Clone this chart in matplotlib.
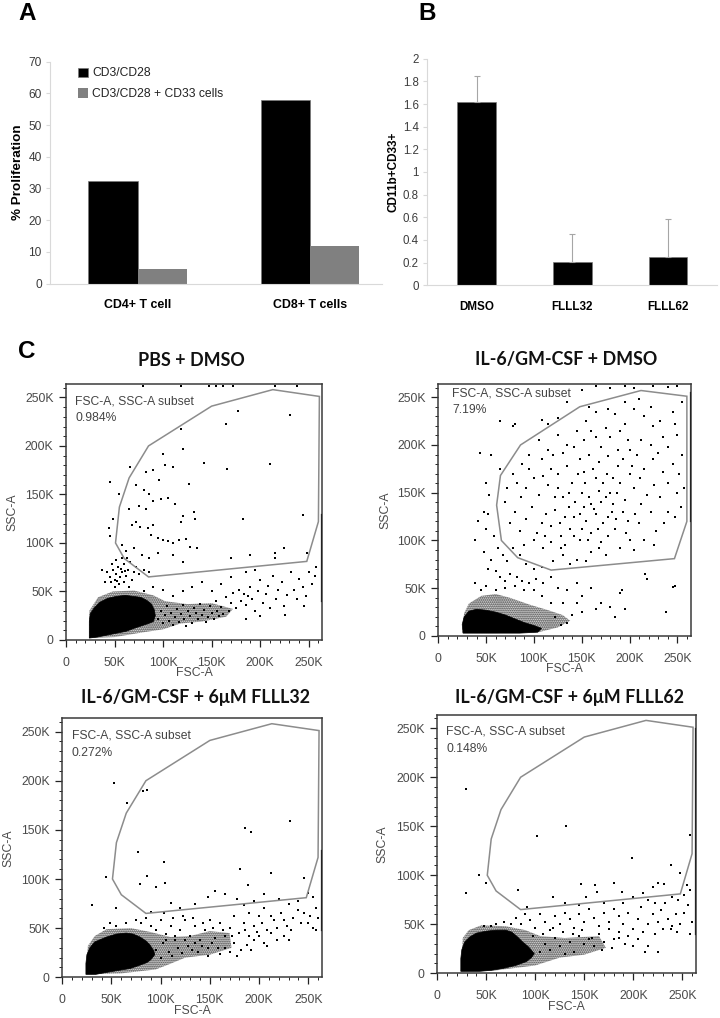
import matplotlib
matplotlib.use("Agg")
import matplotlib.pyplot as plt
from matplotlib.patches import Polygon

W, H = 720, 1018

# panel A
A_GROUPS = ["CD4+ T cell", "CD8+ T cells"]
A_STIM = [32.3, 58.0]
A_CD33 = [4.5, 11.7]
A_SERIES = ["CD3/CD28", "CD3/CD28 + CD33 cells"]

# panel B
B_GROUPS = ["DMSO", "FLLL32", "FLLL62"]
B_VALUES = [1.62, 0.205, 0.25]
B_ERR = [0.23, 0.245, 0.335]
B_TICKS = [0, 0.2, 0.4, 0.6, 0.8, 1, 1.2, 1.4, 1.6, 1.8, 2]
B_TICK_LABELS = ["0", "0.2", "0.4", "0.6", "0.8", "1", "1.2", "1.4", "1.6", "1.8", "2"]

# panel C, all in thousands of FSC-A / SSC-A units
GATE = [(85, 65), (248, 81), (260, 122), (261, 251), (213, 258), (150, 241),
        (85, 200), (65, 167), (55, 137), (51, 100), (60, 84)]
GATE_IL6 = [(118, 69), (247, 81), (260, 120), (260, 251), (212, 257), (148, 240),
            (86, 200), (65, 168), (61, 137), (66, 100), (83, 82)]

PBS_CORE = [(24, 2), (24, 19), (25, 27), (29, 33), (35, 39), (43, 43), (52, 45), (61, 46), (69, 45),
            (77, 44), (83, 41), (88, 37), (91, 31), (92, 25), (90, 19), (85, 17), (79, 15), (70, 12),
            (62, 9), (52, 7), (42, 5), (32, 3)]
PBS_HAZE = [(24, 2), (24, 30), (33, 44), (48, 50), (70, 51), (90, 46), (102, 40), (125, 37), (150, 38),
            (172, 32), (165, 24), (140, 19), (118, 17), (100, 11), (80, 8), (50, 3)]
PBS_EDGE = (40, 130)
PBS_DOTS = [(118, 217), (121, 197), (100, 192), (102, 180), (110, 178), (142, 182), (166, 176),
            (210, 181), (165, 223), (177, 236), (231, 232), (45, 163), (66, 178), (82, 173),
            (90, 175), (96, 165), (72, 160), (80, 155), (85, 150), (127, 161), (55, 150),
            (65, 135), (75, 138), (82, 135), (90, 143), (98, 145), (105, 146), (112, 140),
            (120, 128), (118, 122), (132, 132), (133, 125), (182, 125), (244, 129), (68, 118),
            (76, 116), (72, 122), (84, 115), (90, 118), (88, 108), (95, 105), (100, 103),
            (105, 102), (110, 100), (116, 103), (124, 104), (128, 96), (135, 95), (58, 98),
            (62, 92), (70, 95), (78, 88), (85, 85), (95, 90), (110, 88), (120, 80), (170, 84),
            (215, 85), (215, 90), (190, 88), (248, 90), (225, 95), (45, 107), (44, 115), (48, 125),
            (42, 70), (45, 65), (48, 72), (50, 62), (52, 68), (54, 75), (56, 65), (58, 70),
            (60, 78), (62, 66), (64, 72), (66, 80), (68, 62), (70, 70), (72, 75), (50, 55),
            (55, 58), (60, 60), (65, 55), (40, 60), (37, 72), (75, 68), (80, 72), (85, 70),
            (47, 78), (52, 82), (58, 84), (63, 85), (46, 60), (53, 61), (57, 73), (61, 71),
            (95, 22), (98, 30), (100, 18), (102, 26), (104, 35), (106, 20), (108, 28), (110, 15),
            (112, 24), (114, 32), (116, 19), (118, 27), (120, 36), (122, 22), (124, 14), (126, 30),
            (128, 25), (130, 18), (132, 33), (134, 28), (136, 22), (138, 37), (140, 26), (142, 31),
            (144, 19), (146, 24), (148, 35), (150, 28), (152, 22), (154, 40), (156, 30), (158, 25),
            (160, 34), (162, 27), (165, 44), (168, 30), (170, 38), (172, 48), (175, 33), (178, 52),
            (180, 40), (183, 47), (185, 36), (187, 45), (190, 55), (192, 42), (195, 30), (198, 50),
            (200, 62), (203, 38), (206, 47), (208, 56), (210, 33), (213, 66), (216, 42), (218, 52),
            (222, 60), (225, 35), (228, 46), (232, 70), (235, 52), (238, 42), (240, 63), (244, 55),
            (247, 45), (250, 70), (253, 58), (256, 66), (258, 75), (245, 35), (226, 26), (200, 25),
            (185, 22), (110, 45), (120, 50), (130, 55), (140, 60), (150, 50), (160, 58), (100, 52),
            (90, 55), (80, 50), (170, 65), (185, 70), (195, 72), (79, 262), (118, 262), (147, 262),
            (155, 262), (162, 262), (172, 262), (215, 262), (238, 262)]

IL6_CORE = [(26, 3), (25, 12), (27, 20), (32, 26), (40, 28), (50, 27), (60, 25), (70, 22), (80, 18),
            (90, 14), (100, 11), (108, 8), (104, 4), (85, 3), (60, 3), (40, 3)]
IL6_HAZE = [(25, 3), (27, 24), (32, 34), (45, 42), (60, 44), (75, 40), (95, 33), (115, 27), (130, 22),
            (138, 16), (125, 9), (105, 4), (60, 3)]
IL6_EDGE = (120, 255)
IL6_DOTS = [(175, 145), (168, 152), (160, 138), (182, 130), (190, 160), (150, 150), (142, 125),
            (155, 120), (165, 128), (172, 118), (180, 150), (195, 142), (205, 155), (212, 138),
            (200, 170), (188, 178), (176, 170), (165, 165), (152, 172), (140, 160), (130, 145),
            (122, 132), (118, 115), (128, 105), (138, 112), (148, 100), (160, 108), (170, 98),
            (185, 112), (198, 120), (210, 118), (222, 130), (232, 145), (240, 160), (250, 150),
            (245, 180), (235, 172), (225, 185), (215, 175), (208, 190), (198, 205), (188, 195),
            (178, 188), (168, 182), (158, 190), (148, 185), (135, 178), (125, 170), (115, 158),
            (105, 148), (98, 135), (92, 122), (85, 110), (80, 130), (75, 118), (70, 140),
            (72, 155), (78, 170), (88, 180), (95, 190), (105, 205), (115, 195), (125, 210),
            (135, 200), (145, 215), (155, 225), (165, 208), (175, 218), (185, 232), (195, 222),
            (205, 238), (215, 230), (225, 220), (235, 208), (245, 235), (255, 245), (250, 210),
            (255, 190), (240, 130), (228, 110), (215, 100), (205, 90), (190, 92), (175, 85),
            (160, 88), (145, 80), (130, 85), (120, 78), (110, 92), (100, 100), (90, 95),
            (152, 135), (158, 145), (163, 133), (170, 140), (177, 125), (183, 138), (187, 150),
            (193, 130), (148, 128), (143, 140), (137, 150), (132, 125), (127, 118), (122, 145),
            (113, 128), (108, 118), (103, 108), (112, 105), (118, 98), (133, 95), (142, 105),
            (150, 112), (157, 100), (167, 112), (178, 105), (186, 122), (196, 108), (206, 128),
            (218, 148), (226, 158), (211, 165), (203, 178), (193, 185), (183, 165), (172, 160),
            (162, 175), (153, 160), (146, 170), (137, 135), (125, 155), (118, 175), (110, 168),
            (100, 165), (92, 155), (86, 145), (82, 160), (95, 175), (108, 185), (120, 190),
            (130, 192), (142, 198), (152, 205), (160, 215), (170, 198), (180, 208), (190, 215),
            (200, 195), (212, 205), (222, 200), (230, 192), (240, 198), (248, 222), (232, 225),
            (222, 240), (210, 248), (195, 245), (178, 238), (165, 235), (158, 240), (252, 170),
            (257, 155), (254, 135), (248, 125), (236, 118), (226, 95), (200, 100), (168, 92),
            (155, 78), (138, 75), (128, 92), (55, 190), (44, 192), (65, 175), (50, 160), (53, 148),
            (48, 130), (52, 128), (42, 120), (38, 100), (50, 112), (58, 105), (62, 92), (68, 85),
            (72, 78), (78, 92), (85, 85), (92, 75), (100, 70), (108, 72), (48, 88), (55, 80),
            (52, 70), (60, 68), (65, 62), (70, 58), (75, 65), (82, 62), (88, 58), (95, 55),
            (102, 60), (110, 55), (118, 62), (125, 50), (135, 48), (145, 55), (150, 42), (160, 50),
            (170, 35), (180, 30), (190, 45), (195, 28), (185, 20), (165, 28), (150, 25), (145, 35),
            (130, 35), (140, 22), (135, 14), (128, 12), (122, 20), (118, 35), (108, 42), (100, 48),
            (90, 48), (80, 52), (70, 50), (60, 48), (50, 52), (45, 48), (38, 55), (216, 65),
            (218, 60), (248, 52), (245, 51), (238, 25), (192, 48), (65, 225), (78, 220), (80, 222),
            (150, 258), (165, 262), (180, 260), (195, 262), (205, 260), (225, 262), (240, 261),
            (250, 262), (135, 245), (125, 228), (115, 222), (108, 226)]

F32_CORE = [(24, 3), (24, 14), (25, 23), (28, 30), (33, 36), (45, 41), (55, 44), (65, 45), (72, 44),
            (79, 41), (85, 37), (89, 33), (93, 27), (94, 23), (90, 18), (86, 15), (78, 12), (69, 9),
            (57, 7), (45, 5), (34, 3)]
F32_HAZE = [(24, 3), (26, 32), (33, 42), (45, 49), (70, 50), (90, 46), (110, 41), (130, 42), (150, 47),
            (170, 45), (172, 30), (150, 23), (125, 20), (108, 13), (95, 8), (60, 4)]
F32_EDGE = (48, 130)
F32_DOTS = [(53, 198), (82, 190), (86, 191), (66, 177), (186, 152), (192, 148), (231, 159),
            (77, 127), (103, 117), (181, 110), (212, 106), (86, 103), (44, 102), (79, 95),
            (104, 96), (95, 92), (189, 94), (246, 101), (30, 74), (55, 70), (90, 66),
            (110, 76), (120, 70), (135, 75), (148, 82), (155, 88), (165, 85), (178, 80),
            (185, 74), (195, 78), (205, 85), (220, 80), (230, 75), (240, 78), (250, 86), (255, 82),
            (258, 70), (252, 62), (246, 65), (243, 55), (235, 60), (228, 52), (222, 65), (215, 58),
            (208, 48), (200, 62), (195, 52), (190, 42), (185, 55), (180, 45), (175, 62), (170, 50),
            (165, 42), (160, 55), (155, 40), (150, 58), (145, 48), (140, 38), (135, 52), (130, 42),
            (125, 58), (120, 48), (115, 38), (110, 52), (105, 44), (100, 58), (95, 48), (90, 52),
            (85, 60), (80, 55), (75, 58), (65, 55), (55, 52), (48, 55), (42, 50), (165, 30),
            (170, 26), (175, 35), (182, 28), (188, 33), (195, 38), (200, 42), (205, 35), (212, 45),
            (218, 50), (225, 42), (230, 38), (218, 38), (208, 32), (192, 28), (178, 22), (160, 24),
            (148, 30), (138, 26), (128, 32), (118, 30), (108, 26), (100, 20), (95, 28), (102, 35),
            (112, 22), (122, 25), (132, 28), (142, 32), (152, 35), (158, 30), (148, 22), (135, 35),
            (125, 38), (115, 42), (105, 38), (250, 55), (255, 50), (260, 60), (258, 48), (240, 68),
            (232, 48), (225, 58), (212, 62), (203, 55), (198, 46), (186, 48), (173, 42), (163, 48),
            (153, 50), (143, 55), (133, 60), (123, 62), (113, 60), (103, 65), (205, 70), (190, 65)]

F62_CORE = [(24, 2), (24, 15), (25, 24), (28, 32), (33, 37), (40, 41), (50, 43), (60, 44), (70, 44),
            (76, 42), (82, 37), (87, 32), (93, 27), (99, 20), (96, 16), (91, 12), (80, 8), (67, 5),
            (55, 3), (43, 2), (30, 2)]
F62_HAZE = [(24, 2), (26, 36), (32, 44), (45, 49), (70, 48), (90, 44), (105, 38), (130, 36), (165, 38),
            (172, 26), (150, 19), (125, 16), (100, 8), (60, 3)]
F62_EDGE = (40, 250)
F62_DOTS = [(29, 188), (131, 150), (102, 140), (258, 141), (199, 118), (238, 110), (248, 102),
            (43, 100), (50, 92), (29, 82), (82, 85), (147, 91), (161, 90), (180, 92), (220, 88),
            (225, 92), (231, 91), (118, 78), (152, 78), (163, 83), (188, 83), (210, 82), (255, 90),
            (258, 85), (252, 80), (246, 75), (240, 78), (232, 72), (228, 65), (222, 72), (215, 75),
            (208, 68), (200, 78), (195, 62), (190, 72), (185, 58), (180, 66), (175, 52), (170, 62),
            (165, 48), (160, 56), (155, 66), (150, 52), (145, 60), (140, 46), (135, 55), (130, 62),
            (125, 50), (120, 58), (115, 44), (110, 52), (105, 60), (100, 46), (95, 54), (90, 60),
            (85, 50), (80, 56), (75, 50), (68, 52), (60, 50), (55, 48), (48, 48), (92, 68),
            (130, 72), (145, 70), (170, 72), (256, 70), (252, 62), (248, 50), (244, 60), (240, 48),
            (235, 55), (230, 45), (225, 52), (220, 60), (215, 50), (210, 42), (205, 55), (200, 45),
            (195, 38), (190, 50), (185, 42), (180, 35), (175, 45), (170, 32), (165, 40), (160, 28),
            (155, 35), (150, 30), (145, 38), (140, 22), (135, 32), (130, 20), (125, 28), (120, 36),
            (115, 24), (110, 30), (105, 22), (185, 36), (192, 30), (205, 35), (215, 28), (222, 40),
            (238, 45), (245, 42), (258, 40), (260, 52), (212, 22), (225, 22), (200, 28), (178, 26),
            (168, 24), (158, 36), (148, 44), (138, 40), (128, 42), (118, 46), (108, 40), (98, 38)]

PANELS = [
    {"title": "PBS + DMSO", "tx": 191, "ty": 361, "box": (66, 322.3, 384.3, 640), "gate": GATE,
     "core": PBS_CORE, "haze": PBS_HAZE, "dots": PBS_DOTS, "edge": PBS_EDGE, "pct": "0.984%",
     "note_x": 75, "note_y": 401.5, "ylab_x": 12.5},
    {"title": "IL-6/GM-CSF + DMSO", "tx": 566, "ty": 360, "box": (438.3, 690.7, 384.3, 636),
     "gate": GATE_IL6, "core": IL6_CORE, "haze": IL6_HAZE, "dots": IL6_DOTS, "edge": IL6_EDGE,
     "pct": "7.19%", "note_x": 452, "note_y": 393.5, "ylab_x": 385.5},
    {"title": "IL-6/GM-CSF + 6\u03bcM FLLL32", "tx": 196, "ty": 698, "box": (62.3, 322, 718.3, 977.3),
     "gate": GATE, "core": F32_CORE, "haze": F32_HAZE, "dots": F32_DOTS, "edge": F32_EDGE,
     "pct": "0.272%", "note_x": 71.5, "note_y": 736, "ylab_x": 8.5},
    {"title": "IL-6/GM-CSF + 6\u03bcM FLLL62", "tx": 570, "ty": 698, "box": (437.3, 696, 715, 973.3),
     "gate": GATE, "core": F62_CORE, "haze": F62_HAZE, "dots": F62_DOTS, "edge": F62_EDGE,
     "pct": "0.148%", "note_x": 446.5, "note_y": 732, "ylab_x": 382.5},
]

SANS = "Liberation Sans"
AXIS_GRAY = "#d9d9d9"
TEXT_GRAY = "#3c3c3c"


def px_axes(fig, left, right, top, bottom):
    return fig.add_axes([left / W, 1 - bottom / H, (right - left) / W, (bottom - top) / H])


def style_bar_axes(ax, tick_size, group_size):
    for side in ["top", "right"]:
        ax.spines[side].set_visible(False)
    for side in ["left", "bottom"]:
        ax.spines[side].set_color(AXIS_GRAY)
    ax.tick_params(axis="y", length=3, color=AXIS_GRAY, labelsize=tick_size, labelcolor=TEXT_GRAY, pad=3)
    ax.tick_params(axis="x", length=0, labelsize=group_size, pad=11)
    for label in ax.get_xticklabels():
        label.set_fontweight("bold")


def plot_a(fig):
    ax = px_axes(fig, 50, 382, 61.7, 283.5)
    xs = list(range(len(A_GROUPS)))
    width = 0.287
    ax.bar([x - width / 2 for x in xs], A_STIM, width, color="black", edgecolor="#777777",
           linewidth=0.5, label=A_SERIES[0])
    ax.bar([x + width / 2 for x in xs], A_CD33, width, color="#808080", label=A_SERIES[1])
    ax.set_xlim(-0.509, 1.418)
    ax.set_ylim(0, 70)
    ax.set_yticks(range(0, 71, 10))
    ax.set_xticks(xs)
    ax.set_xticklabels(A_GROUPS)
    ax.set_ylabel("% Proliferation", fontsize=9.7, fontweight="bold")
    ax.yaxis.set_label_coords(-0.078, 0.5)
    style_bar_axes(ax, 8.6, 8.9)
    ax.legend(loc="upper left", bbox_to_anchor=((76 - 50) / 332, 0.985), frameon=False, fontsize=8.7,
              handlelength=0.8, handleheight=0.8, handletextpad=0.35, labelspacing=0.72,
              borderpad=0.2, borderaxespad=0, labelcolor="#222222")


def plot_b(fig):
    ax = px_axes(fig, 427.3, 716.7, 58.7, 285.3)
    xs = list(range(len(B_GROUPS)))
    ax.bar(xs, B_VALUES, 0.404, color="black", edgecolor="#777777", linewidth=0.5)
    ax.errorbar(xs, B_VALUES, yerr=[[0] * len(xs), B_ERR], fmt="none", ecolor="#a6a6a6",
                elinewidth=0.8, capsize=2.2, capthick=0.8, zorder=1)
    ax.set_xlim(-0.515, 2.51)
    ax.set_ylim(0, 2)
    ax.set_yticks(B_TICKS)
    ax.set_yticklabels(B_TICK_LABELS)
    ax.set_xticks(xs)
    ax.set_xticklabels(B_GROUPS)
    ax.set_ylabel("CD11b+CD33+", fontsize=8.5, fontweight="bold")
    ax.yaxis.set_label_coords((399.5 - 427.3) / 289.4, 0.5)
    style_bar_axes(ax, 8.3, 8.4)


def plot_flow(fig, panel):
    left, right, top, bottom = panel["box"]
    ax = px_axes(fig, left, right, top, bottom)
    # the stippled cloud is a hatched outline, the saturated centre a solid one
    ax.add_patch(Polygon(panel["haze"], closed=True, facecolor="none", edgecolor="#1c1c1c", lw=0,
                         hatch="........", zorder=1))
    ax.add_patch(Polygon(panel["core"], closed=True, facecolor="black", edgecolor="black", lw=0.5, zorder=2))
    ax.scatter([p[0] for p in panel["dots"]], [p[1] for p in panel["dots"]], s=0.9, marker="s",
               color="black", linewidths=0, zorder=3)
    ax.plot([263, 263], panel["edge"], color="#222222", lw=0.9, zorder=3)
    ax.add_patch(Polygon(panel["gate"], closed=True, fill=False, edgecolor="#8c8c8c", lw=1.1, zorder=4))

    ax.set_xlim(0, 264)
    ax.set_ylim(0, 263.5)
    major = list(range(0, 251, 50))
    labels = ["0", "50K", "100K", "150K", "200K", "250K"]
    ax.set_xticks(major)
    ax.set_xticklabels(labels)
    ax.set_yticks(major)
    ax.set_yticklabels(labels)
    ax.set_xticks(list(range(0, 261, 10)), minor=True)
    ax.set_yticks(list(range(0, 261, 10)), minor=True)
    ax.tick_params(which="major", length=5, width=0.9, color="#222222", labelsize=8.8,
                   labelcolor="#4a4a4a", pad=4)
    ax.tick_params(which="minor", length=2.5, width=0.7, color="#222222")
    ax.tick_params(axis="x", which="major", pad=7)
    for spine in ax.spines.values():
        spine.set_color("#3a3a3a")
        spine.set_linewidth(1.1)

    fig.text((left + right) / 2 / W, 1 - (bottom + 33.5) / H, "FSC-A", fontsize=8.8, color="#4a4a4a",
             ha="center", va="center", family=SANS)
    fig.text(panel["ylab_x"] / W, 1 - (top + bottom) / 2 / H, "SSC-A", fontsize=8.8, color="#4a4a4a",
             rotation=90, ha="center", va="center", family=SANS)
    fig.text(panel["note_x"] / W, 1 - panel["note_y"] / H, "FSC-A, SSC-A subset", fontsize=8.7,
             color="#444444", va="center", family=SANS)
    fig.text(panel["note_x"] / W, 1 - (panel["note_y"] + 16.5) / H, panel["pct"], fontsize=8.7,
             color="#444444", va="center", family=SANS)
    fig.text(panel["tx"] / W, 1 - panel["ty"] / H, panel["title"], fontsize=12.9, fontweight="bold",
             ha="center", va="center", family=["Lato", "DejaVu Sans"], color="#111111")


def main():
    plt.rcParams["font.family"] = SANS
    fig = plt.figure(figsize=(W / 100, H / 100), dpi=100)
    plot_a(fig)
    plot_b(fig)
    for panel in PANELS:
        plot_flow(fig, panel)
    for letter, x, y in [("A", 27, 14), ("B", 427, 13), ("C", 27, 351)]:
        fig.text(x / W, 1 - y / H, letter, fontsize=17.5, fontweight="bold", ha="center", va="center")
    fig.savefig("out.png", dpi=100)


if __name__ == "__main__":
    main()
